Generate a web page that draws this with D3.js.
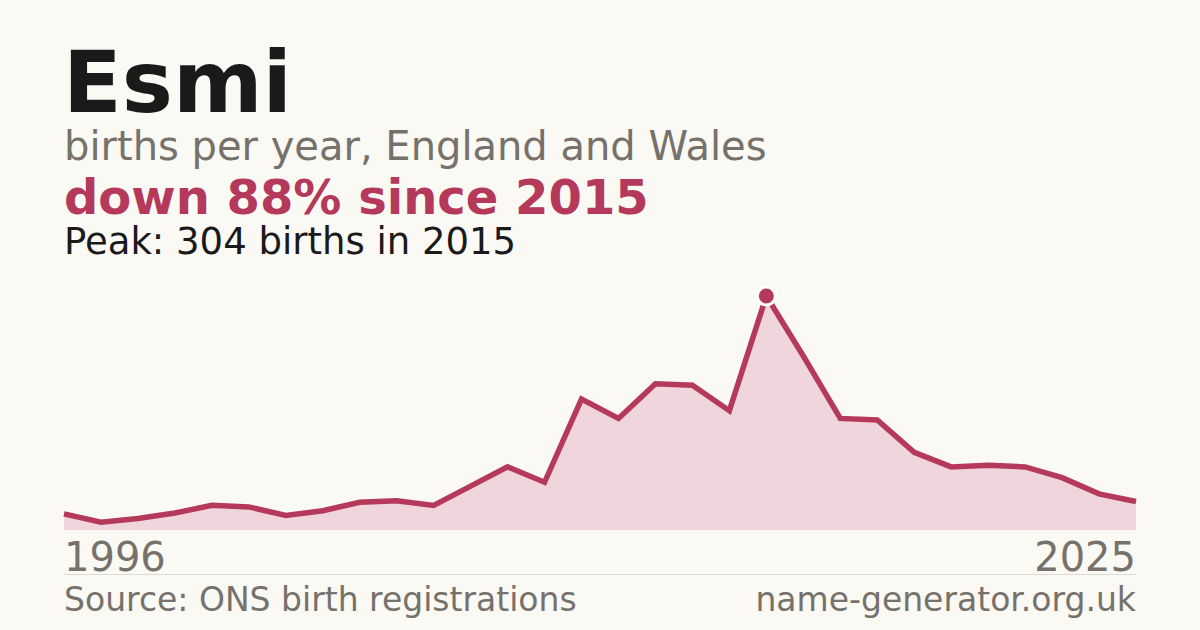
<!DOCTYPE html>
<html>
<head>
<meta charset="utf-8">
<style>
  html, body { margin: 0; padding: 0; background: #faf9f4; }
  svg text { font-family: "DejaVu Sans", sans-serif; }
</style>
</head>
<body>
<svg id="chart" width="1200" height="630"></svg>
<script src="https://d3js.org/d3.v7.min.js"></script>
<script>
  // births per year for Esmi
  const years = d3.range(1996, 2026)
  const births = [21, 10, 15, 22, 32, 30, 19, 25, 36, 38,
                  32, 57, 82, 62, 170, 145, 190, 188, 155, 304,
                  226, 145, 143, 101, 82, 84, 82, 68, 47, 37]
  const peakYear = 2015
  const peakValue = 304

  const red = '#b5395a'
  const grey = '#77716b'

  let svg = d3.select('#chart')

  svg.append('rect')
    .attr('width', 1200)
    .attr('height', 630)
    .attr('fill', '#faf9f4')

  // header texts
  svg.append('text')
    .attr('x', 63).attr('y', 112)
    .attr('font-size', 86).attr('font-weight', 'bold')
    .attr('fill', '#1a1a1a')
    .text('Esmi')

  svg.append('text')
    .attr('x', 64).attr('y', 160)
    .attr('font-size', 40)
    .attr('fill', grey)
    .text('births per year, England and Wales')

  svg.append('text')
    .attr('x', 64).attr('y', 214)
    .attr('font-size', 48).attr('font-weight', 'bold')
    .attr('fill', red)
    .text('down 88% since 2015')

  svg.append('text')
    .attr('x', 64).attr('y', 254)
    .attr('font-size', 37)
    .attr('fill', '#1a1a1a')
    .text('Peak: ' + peakValue + ' births in ' + peakYear)

  // scales
  let x = d3.scaleLinear()
    .domain([1996, 2025])
    .range([64, 1136])
  let y = d3.scaleLinear()
    .domain([0, peakValue])
    .range([530, 296])

  let data = years.map((yr, i) => ({year: yr, value: births[i]}))

  let area = d3.area()
    .x(d => x(d.year))
    .y0(y(0))
    .y1(d => y(d.value))
  let line = d3.line()
    .x(d => x(d.year))
    .y(d => y(d.value))

  svg.append('path')
    .datum(data)
    .attr('d', area)
    .attr('fill', '#f0d5dc')

  svg.append('path')
    .datum(data)
    .attr('d', line)
    .attr('fill', 'none')
    .attr('stroke', red)
    .attr('stroke-width', 5.5)
    .attr('stroke-linejoin', 'miter')

  // peak marker with white halo
  svg.append('circle')
    .attr('cx', x(peakYear))
    .attr('cy', y(peakValue))
    .attr('r', 9)
    .attr('fill', red)
    .attr('stroke', '#ffffff')
    .attr('stroke-width', 3)

  // end labels
  svg.append('text')
    .attr('x', 64).attr('y', 571)
    .attr('font-size', 40)
    .attr('fill', grey)
    .text(years[0])
  svg.append('text')
    .attr('x', 1136).attr('y', 571)
    .attr('font-size', 40)
    .attr('text-anchor', 'end')
    .attr('fill', grey)
    .text(years[years.length - 1])

  // footer
  svg.append('line')
    .attr('x1', 64).attr('x2', 1136)
    .attr('y1', 574.5).attr('y2', 574.5)
    .attr('stroke', '#dddad3')
    .attr('stroke-width', 1)

  svg.append('text')
    .attr('x', 64).attr('y', 611)
    .attr('font-size', 33)
    .attr('fill', grey)
    .text('Source: ONS birth registrations')
  svg.append('text')
    .attr('x', 1136).attr('y', 611)
    .attr('font-size', 33)
    .attr('text-anchor', 'end')
    .attr('fill', grey)
    .text('name-generator.org.uk')
</script>
</body>
</html>
